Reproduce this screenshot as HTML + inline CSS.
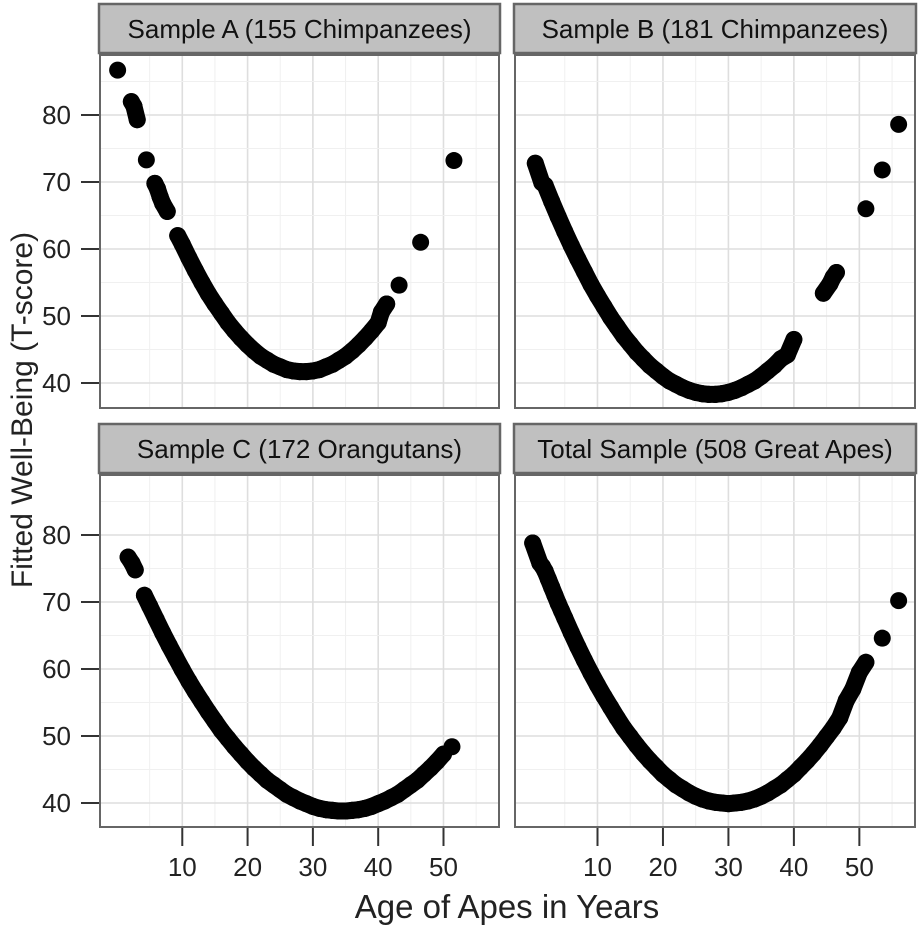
<!DOCTYPE html>
<html><head><meta charset="utf-8"><style>
html,body{margin:0;padding:0;background:#fff}
svg{display:block;font-family:"Liberation Sans",sans-serif}
</style></head><body>
<svg id="chart" width="920" height="926" viewBox="0 0 920 926"></svg>
<script>
const panelTitles = ["Sample A (155 Chimpanzees)","Sample B (181 Chimpanzees)","Sample C (172 Orangutans)","Total Sample (508 Great Apes)"];
const xTicks = [10,20,30,40,50];
const yTicks = [40,50,60,70,80];
const agesA = [0.1,2.2,2.6,3.1,4.5,5.8,6.2,6.6,7,7.7,9.3,10,11,12,13,14,15,16,17,18,19,20,21,22,23,24,25,26,27,28,29,30,31,32,33,34,35,36,37,38,39,40,40.5,41.3,43.2,46.5,51.6];
const valsA = [86.7,82,81.3,79.3,73.3,69.8,69,67.8,66.8,65.6,62,60.7,58.7,56.8,55,53.3,51.8,50.4,49,47.8,46.7,45.7,44.8,44,43.4,42.8,42.4,42,41.8,41.7,41.7,41.8,42,42.4,42.8,43.4,44,44.8,45.7,46.7,47.8,49,50.6,51.8,54.6,61,73.2];
const agesB = [0.5,1.5,2,3,4,5,6,7,8,9,10,11,12,13,14,15,16,17,18,19,20,21,22,23,24,25,26,27,28,29,30,31,32,33,34,35,36,37,38,39,40,44.5,45.5,46,46.5,51,53.5,56];
const valsB = [72.8,69.9,69.5,67.1,64.8,62.6,60.5,58.5,56.6,54.7,53,51.4,49.8,48.4,47,45.8,44.6,43.6,42.6,41.8,41,40.3,39.8,39.3,38.9,38.6,38.4,38.3,38.3,38.4,38.6,38.9,39.3,39.8,40.3,41,41.8,42.6,43.6,44.2,46.5,53.4,54.8,55.8,56.5,66,71.8,78.6];
const agesC = [1.7,2.3,2.8,4.2,5,6,7,8,9,10,11,12,13,14,15,16,17,18,19,20,21,22,23,24,25,26,27,28,29,30,31,32,33,34,35,36,37,38,39,40,41,42,43,44,45,46,47,48,49,50,51.3];
const valsC = [76.7,75.8,74.8,71,69.4,67.4,65.4,63.5,61.7,59.9,58.2,56.6,55.1,53.6,52.2,50.8,49.6,48.4,47.3,46.2,45.2,44.3,43.4,42.7,42,41.3,40.8,40.3,39.9,39.5,39.2,39,38.9,38.8,38.8,38.9,39,39.2,39.5,39.9,40.3,40.8,41.3,42,42.7,43.4,44.3,45.2,46.2,47.3,48.4];
const agesD = [0.1,1.2,1.6,2,2.5,3,3.5,4,4.5,5,6,7,8,9,10,11,12,13,14,15,16,17,18,19,20,21,22,23,24,25,26,27,28,29,30,31,32,33,34,35,36,37,38,39,40,41,42,43,44,45,46,47,48,49,50,51,53.5,56];
const valsD = [78.8,75.8,75.3,74.6,73.4,72.2,71,69.8,68.7,67.6,65.4,63.3,61.3,59.4,57.6,55.9,54.3,52.7,51.2,49.9,48.6,47.4,46.3,45.3,44.3,43.5,42.7,42.1,41.5,41,40.6,40.3,40.1,40,39.9,40,40.1,40.3,40.6,41,41.5,42.1,42.7,43.5,44.3,45.3,46.3,47.4,48.6,49.9,51.2,52.7,55.3,57,59.5,61,64.6,70.2];

const NS='http://www.w3.org/2000/svg';
const svg=document.getElementById('chart');
function mk(tag,attrs,parent){const e=document.createElementNS(NS,tag);for(const k in attrs)e.setAttribute(k,attrs[k]);(parent||svg).appendChild(e);return e;}
const panels=[
 {x:100,w:399,y:55,h:353,ages:agesA,vals:valsA,t:panelTitles[0],left:true,bottom:false,key:'a'},
 {x:515,w:400,y:55,h:353,ages:agesB,vals:valsB,t:panelTitles[1],left:false,bottom:false,key:'b'},
 {x:100,w:399,y:475,h:352,ages:agesC,vals:valsC,t:panelTitles[2],left:true,bottom:true,key:'c'},
 {x:515,w:400,y:475,h:352,ages:agesD,vals:valsD,t:panelTitles[3],left:false,bottom:true,key:'d'}
];
const XMIN=-2.6, XMAX=58.5, R=8.5;
panels.forEach(p=>{
 const xs=a=>p.x+(a-XMIN)/(XMAX-XMIN)*p.w;
 const yTop=p.y===55?115:535;
 const ys=v=>yTop+(80-v)*6.7;
 const g=mk('g',{});
 
 
 const s=mk('rect',{x:p.x-1,y:p.y-51,width:p.w+2,height:49,fill:'#c0c0c0',stroke:'#666','stroke-width':2.5},g);
 
 
 const st=mk('text',{x:p.x+p.w/2,y:p.y-17,'text-anchor':'middle','font-size':26,fill:'#111'},g);
 st.textContent=p.t;
 
 
 for(let a=5;a<=55;a+=5){const X=xs(a);const l=mk('line',{x1:X,x2:X,y1:p.y,y2:p.y+p.h,stroke:a%10?'#f0f0f0':'#dedede','stroke-width':a%10?1:1.6},g);
  
  }
 for(let v=35;v<=85;v+=5){const Y=ys(v);if(Y<p.y||Y>p.y+p.h)continue;const l=mk('line',{x1:p.x,x2:p.x+p.w,y1:Y,y2:Y,stroke:v%10?'#f0f0f0':'#dedede','stroke-width':v%10?1:1.6},g);
  
  }
 // dense runs of overlapping points: connect consecutive points within 1.1 years
 for(let i=1;i<p.ages.length;i++){
  if(p.ages[i]-p.ages[i-1]<=1.1){
   const ln=mk('line',{x1:xs(p.ages[i-1]),y1:ys(p.vals[i-1]),x2:xs(p.ages[i]),y2:ys(p.vals[i]),stroke:'#000','stroke-width':2*R,'stroke-linecap':'round'},g);
   
   
  }
 }
 p.ages.forEach((a,i)=>{const c=mk('circle',{cx:xs(a),cy:ys(p.vals[i]),r:R,fill:'#000'},g);
  
  });
 const b=mk('rect',{x:p.x,y:p.y,width:p.w,height:p.h,fill:'none',stroke:'#666','stroke-width':2},g);
 
 
 if(p.left){yTicks.forEach(v=>{const Y=ys(v);mk('line',{x1:p.x-19,x2:p.x-1,y1:Y,y2:Y,stroke:'#333','stroke-width':2},g);
  const t=mk('text',{x:p.x-29,y:Y+9,'text-anchor':'end','font-size':26,fill:'#222'},g);t.textContent=v;
  
  });}
 if(p.bottom){xTicks.forEach(a=>{const X=xs(a);mk('line',{x1:X,x2:X,y1:p.y+p.h+1,y2:p.y+p.h+19,stroke:'#333','stroke-width':2},g);
  const t=mk('text',{x:X,y:876,'text-anchor':'middle','font-size':26,fill:'#222'},g);t.textContent=a;
  
  });}
});
const xt=mk('text',{x:507,y:918,'text-anchor':'middle','font-size':33,fill:'#222'});
xt.textContent='Age of Apes in Years';


const yt=mk('text',{x:0,y:0,'text-anchor':'middle','font-size':30,fill:'#222',transform:'translate(32,410) rotate(-90)'});
yt.textContent='Fitted Well-Being (T-score)';


</script>
</body></html>
